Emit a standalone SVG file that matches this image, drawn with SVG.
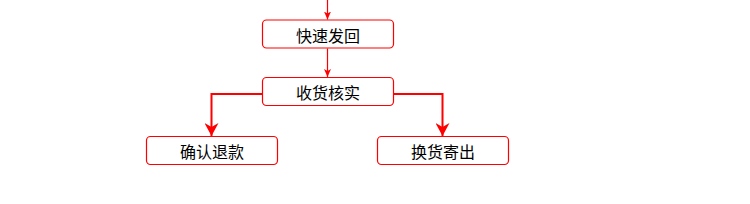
<svg xmlns="http://www.w3.org/2000/svg" width="750" height="204" viewBox="0 0 750 204">
<style>
.box{fill:#fff;stroke:#ff0000;stroke-width:1.2}
.lbl{font-family:"Noto Sans CJK SC","Liberation Sans",sans-serif;font-size:16px;fill:#000;text-anchor:middle;dominant-baseline:central}
.thin{fill:none;stroke:#ff0000;stroke-width:1.2}
.thick{fill:none;stroke:#ff0000;stroke-width:2}
</style>
<defs>
<marker id="a1" viewBox="0 0 8 7" refX="8" refY="3.5" markerWidth="8" markerHeight="7" markerUnits="userSpaceOnUse" orient="auto"><path d="M0,0 L8,3.5 L0,7 L2,3.5 Z" fill="#ff0000"/></marker>
<marker id="a2" viewBox="0 0 13 14" refX="13" refY="7" markerWidth="13" markerHeight="14" markerUnits="userSpaceOnUse" orient="auto"><path d="M0,0 L13,7 L0,14 L4,7 Z" fill="#ff0000"/></marker>
</defs>
<g id="connectors">
<path class="thin" d="M327.5,0 V19.5" marker-end="url(#a1)"/>
<path class="thin" d="M327.5,48.5 V77" marker-end="url(#a1)"/>
<path class="thick" d="M262.5,94 H211.5 V136" marker-end="url(#a2)"/>
<path class="thick" d="M393.5,94 H442.5 V136" marker-end="url(#a2)"/>
</g>
<g id="n1"><rect class="box" x="262.5" y="20" width="131" height="28" rx="4"/><text class="lbl" x="328" y="34.5">快速发回</text></g>
<g id="n2"><rect class="box" x="262.5" y="77.5" width="131" height="28" rx="4"/><text class="lbl" x="328" y="92">收货核实</text></g>
<g id="n3"><rect class="box" x="146.5" y="136.5" width="131" height="28" rx="4"/><text class="lbl" x="212" y="151">确认退款</text></g>
<g id="n4"><rect class="box" x="377.5" y="136.5" width="131" height="28" rx="4"/><text class="lbl" x="443" y="151">换货寄出</text></g>
</svg>
